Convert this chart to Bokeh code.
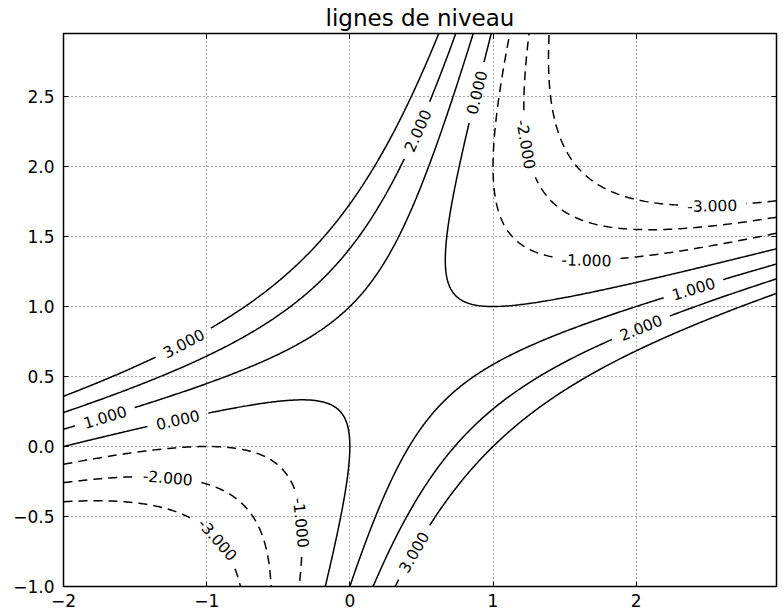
import numpy as np
import contourpy
from bokeh.plotting import figure
from bokeh.models import Range1d, FixedTicker, LinearAxis
from bokeh.core.properties import value
from bokeh.embed import file_html
from bokeh.resources import INLINE

# ---- data ----
title_text = "lignes de niveau"
# field z = a*x^2 + b*y^2 + c*x*y + d*x  (coefficients)
coef_x2 = 1.0
coef_y2 = 1.0
coef_xy = -4.0
coef_x = 2.0
x_lo, x_hi = -2.0, 2.98
y_lo, y_hi = -1.0, 2.95
levels = [-3, -2, -1, 0, 1, 2, 3]
label_levels = [3, 1, 0, -2, -3, -1, 3, 2, 1, -1, -3, -2, 0, 2]
label_x = [-1.167, -1.713, -1.20, -1.27, -0.91, -0.32, 0.43, 2.025, 2.40, 1.656, 2.527, 1.24, 0.845, 0.46]
label_y = [0.74, 0.23, 0.20, -0.216, -0.66, -0.54, -0.75, 0.858, 1.124, 1.332, 1.716, 2.16, 2.54, 2.26]
x_ticks = [-2, -1, 0, 1, 2]
x_tick_labels = ["\u22122", "\u22121", "0", "1", "2"]
y_ticks = [-1.0, -0.5, 0.0, 0.5, 1.0, 1.5, 2.0, 2.5]
y_tick_labels = ["\u22121.0", "\u22120.5", "0.0", "0.5", "1.0", "1.5", "2.0", "2.5"]

# ---- layout ----
W, H = 784, 609
MB_L, MB_R, MB_T, MB_B = 63, 8, 33, 22
FONT = "DejaVu Sans"
LABEL_PX = 15.5

xg = np.linspace(x_lo, x_hi, 500)
yg = np.linspace(y_lo, y_hi, 400)
X, Y = np.meshgrid(xg, yg)
Z = coef_x2 * X**2 + coef_y2 * Y**2 + coef_xy * X * Y + coef_x * X

gen = contourpy.contour_generator(X, Y, Z, line_type="Separate")
pieces = {lv: [np.asarray(a) for a in gen.lines(lv)] for lv in levels}

sx = (W - MB_L - MB_R) / (x_hi - x_lo)
sy = (H - MB_T - 26) / (y_hi - y_lo)
char_w = {"-": 0.361, ".": 0.318}


def text_width(s):
    return sum(char_w.get(ch, 0.636) for ch in s) * LABEL_PX


def interp(p0, p1, d0, d1, R):
    t = (R - d0) / (d1 - d0) if d1 != d0 else 0.0
    return p0 + t * (p1 - p0)


lab_x, lab_y, lab_t, lab_a = [], [], [], []
for lv, cx, cy in zip(label_levels, label_x, label_y):
    txt = "%.3f" % lv
    R = text_width(txt) / 2 + 9
    c = np.array([cx, cy])
    best = None
    for k, P in enumerate(pieces[lv]):
        S = (P - c) * np.array([sx, sy])
        d = np.hypot(S[:, 0], S[:, 1])
        i = int(np.argmin(d))
        if best is None or d[i] < best[0]:
            best = (d[i], k, i)
    _, k, i0 = best
    P = pieces[lv][k]
    c = P[i0]
    S = (P - c) * np.array([sx, sy])
    d = np.hypot(S[:, 0], S[:, 1])
    j = i0
    while j > 0 and d[j] < R:
        j -= 1
    if d[j] >= R:
        a_pt = interp(P[j + 1], P[j], d[j + 1], d[j], R)
        left = np.vstack([P[: j + 1], a_pt])
    else:
        a_pt = P[0]
        left = None
    m = i0
    n = len(P) - 1
    while m < n and d[m] < R:
        m += 1
    if d[m] >= R:
        b_pt = interp(P[m - 1], P[m], d[m - 1], d[m], R)
        right = np.vstack([b_pt, P[m:]])
    else:
        b_pt = P[n]
        right = None
    ang = np.arctan2((b_pt[1] - a_pt[1]) * sy, (b_pt[0] - a_pt[0]) * sx)
    if ang > np.pi / 2:
        ang -= np.pi
    elif ang <= -np.pi / 2:
        ang += np.pi
    new = [q for q in (left, right) if q is not None and len(q) > 1]
    pieces[lv] = pieces[lv][:k] + new + pieces[lv][k + 1:]
    lab_x.append(c[0]); lab_y.append(c[1]); lab_t.append(txt); lab_a.append(ang)

p = figure(width=W, height=H, output_backend="svg", toolbar_location=None,
           x_range=Range1d(x_lo, x_hi), y_range=Range1d(y_lo, y_hi),
           min_border_left=MB_L, min_border_right=MB_R,
           min_border_top=MB_T, min_border_bottom=MB_B)
p.background_fill_color = "white"
p.border_fill_color = "white"
p.outline_line_color = "black"
p.outline_line_width = 1.5

p.title.text = title_text
p.title.align = "center"
p.title.text_font = FONT
p.title.text_font_size = "23px"
p.title.text_font_style = "normal"
p.title.text_color = "black"
p.title.standoff = 5

for ax, ticks, labels in ((p.xaxis[0], x_ticks, x_tick_labels), (p.yaxis[0], y_ticks, y_tick_labels)):
    ax.ticker = FixedTicker(ticks=ticks)
    ax.major_label_overrides = {t: s for t, s in zip(ticks, labels)}
    ax.major_label_text_font = FONT
    ax.major_label_text_font_size = "17px"
    ax.major_label_text_color = "black"
    ax.major_tick_in = 5
    ax.major_tick_out = 0
    ax.minor_tick_line_color = None
    ax.major_tick_line_color = "black"
    ax.axis_line_color = None
p.xaxis[0].major_label_standoff = 7
p.yaxis[0].major_label_standoff = 9

for loc, ticks in (("right", y_ticks), ("above", x_ticks)):
    ax = LinearAxis(ticker=FixedTicker(ticks=ticks),
                    major_label_overrides={t: "" for t in ticks},
                    major_label_text_font_size="0px", major_label_standoff=0,
                    major_tick_in=5, major_tick_out=0,
                    minor_tick_line_color=None, axis_line_color=None,
                    major_tick_line_color="black")
    p.add_layout(ax, loc)

for g in (p.xgrid[0], p.ygrid[0]):
    g.grid_line_color = "black"
    g.grid_line_dash = "1 3"
    g.grid_line_width = 1
    g.grid_line_alpha = 0.7

solid_xs, solid_ys, dash_xs, dash_ys = [], [], [], []
for lv in levels:
    for P in pieces[lv]:
        if lv < 0:
            dash_xs.append(list(P[:, 0])); dash_ys.append(list(P[:, 1]))
        else:
            solid_xs.append(list(P[:, 0])); solid_ys.append(list(P[:, 1]))

p.multi_line(solid_xs, solid_ys, line_color="black", line_width=1.5)
p.multi_line(dash_xs, dash_ys, line_color="black", line_width=1.5, line_dash="9 6")

p.text(x=lab_x, y=lab_y, text=lab_t, angle=lab_a, text_align="center",
       text_baseline="middle", text_font=value(FONT), text_font_size=f"{LABEL_PX}px",
       text_color="black")

open("out.html", "w").write(file_html(p, INLINE))
